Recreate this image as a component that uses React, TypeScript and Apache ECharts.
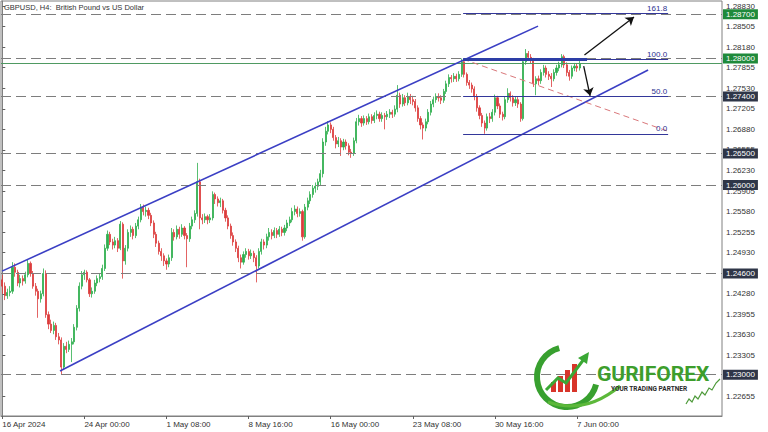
import React, { useEffect, useRef } from 'react';
import * as echarts from 'echarts';

const FONT = "'Liberation Sans', Arial, sans-serif";

// ---- axis data ----
const slotCount = 281;
const xTickIndex = [0, 32, 64, 96, 128, 160, 192, 224];
const xTickLabels = ['16 Apr 2024', '24 Apr 00:00', '1 May 08:00', '8 May 16:00', '16 May 00:00', '23 May 08:00', '30 May 16:00', '7 Jun 00:00'];
const yTickValues = [1.2883, 1.28505, 1.2818, 1.27855, 1.2753, 1.27205, 1.2688, 1.26555, 1.2623, 1.25905, 1.2558, 1.25255, 1.2493, 1.2428, 1.23955, 1.2363, 1.23305, 1.22655];
const yMin = 1.22347;
const yMax = 1.2891;

// ---- H4 candles (16 Apr 16:00 -> 7 Jun 04:00) ----
const opens = [
  1.2450, 1.2440, 1.2425, 1.2430, 1.2432, 1.2470, 1.2462, 1.2445, 1.2452, 1.2448,
  1.2458, 1.2476, 1.2460, 1.2440, 1.2432, 1.2420, 1.2428, 1.2460, 1.2395, 1.2380,
  1.2370, 1.2378, 1.2360, 1.2355, 1.2312, 1.2345, 1.2340, 1.2348, 1.2352, 1.2375,
  1.2405, 1.2440, 1.2458, 1.2462, 1.2450, 1.2428, 1.2432, 1.2445, 1.2452, 1.2455,
  1.2468, 1.2500, 1.2522, 1.2510, 1.2505, 1.2512, 1.2500, 1.2538, 1.2480, 1.2500,
  1.2525, 1.2530, 1.2520, 1.2535, 1.2545, 1.2565, 1.2558, 1.2560, 1.2552, 1.2540,
  1.2522, 1.2508, 1.2495, 1.2488, 1.2480, 1.2475, 1.2485, 1.2525, 1.2518, 1.2530,
  1.2522, 1.2532, 1.2520, 1.2515, 1.2535, 1.2545, 1.2555, 1.2605, 1.2548, 1.2545,
  1.2550, 1.2545, 1.2548, 1.2585, 1.2578, 1.2572, 1.2575, 1.2560, 1.2548, 1.2535,
  1.2520, 1.2510, 1.2500, 1.2485, 1.2478, 1.2490, 1.2495, 1.2488, 1.2492, 1.2485,
  1.2472, 1.2495, 1.2510, 1.2505, 1.2518, 1.2525, 1.2520, 1.2528, 1.2522, 1.2530,
  1.2525, 1.2532, 1.2540, 1.2545, 1.2558, 1.2562, 1.2555, 1.2558, 1.2518, 1.2565,
  1.2575, 1.2585, 1.2595, 1.2598, 1.2605, 1.2618, 1.2668, 1.2685, 1.2695, 1.2688,
  1.2675, 1.2665, 1.2670, 1.2660, 1.2668, 1.2662, 1.2652, 1.2650, 1.2670, 1.2700,
  1.2705, 1.2698, 1.2705, 1.2700, 1.2708, 1.2702, 1.2710, 1.2712, 1.2705, 1.2710,
  1.2708, 1.2712, 1.2715, 1.2712, 1.2720, 1.2742, 1.2728, 1.2738, 1.2730, 1.2740,
  1.2735, 1.2732, 1.2722, 1.2705, 1.2695, 1.2690, 1.2700, 1.2715, 1.2728, 1.2735,
  1.2740, 1.2738, 1.2734, 1.2748, 1.2760, 1.2770, 1.2768, 1.2772, 1.2768, 1.2775,
  1.2795, 1.2775, 1.2762, 1.2758, 1.2752, 1.2740, 1.2722, 1.2710, 1.2698, 1.2690,
  1.2708, 1.2705, 1.2715, 1.2738, 1.2725, 1.2712, 1.2708, 1.2735, 1.2745, 1.2738,
  1.2730, 1.2735, 1.2728, 1.2705, 1.2795, 1.2808, 1.2802, 1.2798, 1.2760, 1.2768,
  1.2765, 1.2778, 1.2785, 1.2775, 1.2772, 1.2768, 1.2778, 1.2785, 1.2790, 1.2803,
  1.2790, 1.2778, 1.2772, 1.2785, 1.2788, 1.2785,
];
const closes = [
  1.2440, 1.2425, 1.2430, 1.2432, 1.2470, 1.2462, 1.2445, 1.2452, 1.2448, 1.2458,
  1.2476, 1.2460, 1.2440, 1.2432, 1.2420, 1.2428, 1.2460, 1.2395, 1.2380, 1.2370,
  1.2378, 1.2360, 1.2355, 1.2312, 1.2345, 1.2340, 1.2348, 1.2352, 1.2375, 1.2405,
  1.2440, 1.2458, 1.2462, 1.2450, 1.2428, 1.2432, 1.2445, 1.2452, 1.2455, 1.2468,
  1.2500, 1.2522, 1.2510, 1.2505, 1.2512, 1.2500, 1.2538, 1.2480, 1.2500, 1.2525,
  1.2530, 1.2520, 1.2535, 1.2545, 1.2565, 1.2558, 1.2560, 1.2552, 1.2540, 1.2522,
  1.2508, 1.2495, 1.2488, 1.2480, 1.2475, 1.2485, 1.2525, 1.2518, 1.2530, 1.2522,
  1.2532, 1.2520, 1.2515, 1.2535, 1.2545, 1.2555, 1.2605, 1.2548, 1.2545, 1.2550,
  1.2545, 1.2548, 1.2585, 1.2578, 1.2572, 1.2575, 1.2560, 1.2548, 1.2535, 1.2520,
  1.2510, 1.2500, 1.2485, 1.2478, 1.2490, 1.2495, 1.2488, 1.2492, 1.2485, 1.2472,
  1.2495, 1.2510, 1.2505, 1.2518, 1.2525, 1.2520, 1.2528, 1.2522, 1.2530, 1.2525,
  1.2532, 1.2540, 1.2545, 1.2558, 1.2562, 1.2555, 1.2558, 1.2518, 1.2565, 1.2575,
  1.2585, 1.2595, 1.2598, 1.2605, 1.2618, 1.2668, 1.2685, 1.2695, 1.2688, 1.2675,
  1.2665, 1.2670, 1.2660, 1.2668, 1.2662, 1.2652, 1.2650, 1.2670, 1.2700, 1.2705,
  1.2698, 1.2705, 1.2700, 1.2708, 1.2702, 1.2710, 1.2712, 1.2705, 1.2710, 1.2708,
  1.2712, 1.2715, 1.2712, 1.2720, 1.2742, 1.2728, 1.2738, 1.2730, 1.2740, 1.2735,
  1.2732, 1.2722, 1.2705, 1.2695, 1.2690, 1.2700, 1.2715, 1.2728, 1.2735, 1.2740,
  1.2738, 1.2734, 1.2748, 1.2760, 1.2770, 1.2768, 1.2772, 1.2768, 1.2775, 1.2795,
  1.2775, 1.2762, 1.2758, 1.2752, 1.2740, 1.2722, 1.2710, 1.2698, 1.2690, 1.2708,
  1.2705, 1.2715, 1.2738, 1.2725, 1.2712, 1.2708, 1.2735, 1.2745, 1.2738, 1.2730,
  1.2735, 1.2728, 1.2705, 1.2795, 1.2808, 1.2802, 1.2798, 1.2760, 1.2768, 1.2765,
  1.2778, 1.2785, 1.2775, 1.2772, 1.2768, 1.2778, 1.2785, 1.2790, 1.2803, 1.2790,
  1.2778, 1.2772, 1.2785, 1.2788, 1.2785, 1.2792,
];
const lows = [
  1.2428, 1.2418, 1.2420, 1.2424, 1.2428, 1.2455, 1.2440, 1.2438, 1.2441, 1.2444,
  1.2454, 1.2455, 1.2436, 1.2425, 1.2390, 1.2414, 1.2424, 1.2390, 1.2372, 1.2366,
  1.2364, 1.2355, 1.2348, 1.2300, 1.2308, 1.2334, 1.2336, 1.2320, 1.2348, 1.2370,
  1.2400, 1.2435, 1.2450, 1.2446, 1.2423, 1.2422, 1.2428, 1.2440, 1.2446, 1.2450,
  1.2464, 1.2496, 1.2505, 1.2498, 1.2500, 1.2494, 1.2497, 1.2452, 1.2474, 1.2495,
  1.2518, 1.2514, 1.2516, 1.2530, 1.2541, 1.2552, 1.2550, 1.2546, 1.2535, 1.2516,
  1.2502, 1.2490, 1.2480, 1.2472, 1.2466, 1.2470, 1.2480, 1.2512, 1.2514, 1.2515,
  1.2518, 1.2514, 1.2470, 1.2510, 1.2530, 1.2540, 1.2550, 1.2530, 1.2538, 1.2540,
  1.2538, 1.2540, 1.2544, 1.2570, 1.2566, 1.2565, 1.2555, 1.2542, 1.2530, 1.2515,
  1.2504, 1.2494, 1.2478, 1.2468, 1.2474, 1.2485, 1.2482, 1.2483, 1.2478, 1.2446,
  1.2468, 1.2490, 1.2498, 1.2500, 1.2512, 1.2514, 1.2516, 1.2516, 1.2518, 1.2519,
  1.2520, 1.2527, 1.2535, 1.2541, 1.2552, 1.2549, 1.2550, 1.2512, 1.2515, 1.2560,
  1.2570, 1.2580, 1.2588, 1.2592, 1.2600, 1.2612, 1.2662, 1.2680, 1.2682, 1.2670,
  1.2658, 1.2660, 1.2646, 1.2655, 1.2656, 1.2647, 1.2643, 1.2646, 1.2666, 1.2694,
  1.2692, 1.2694, 1.2695, 1.2696, 1.2697, 1.2698, 1.2704, 1.2700, 1.2700, 1.2688,
  1.2703, 1.2706, 1.2706, 1.2708, 1.2715, 1.2722, 1.2724, 1.2725, 1.2726, 1.2728,
  1.2726, 1.2716, 1.2700, 1.2688, 1.2672, 1.2685, 1.2696, 1.2710, 1.2723, 1.2730,
  1.2732, 1.2728, 1.2730, 1.2744, 1.2755, 1.2762, 1.2763, 1.2763, 1.2764, 1.2771,
  1.2770, 1.2757, 1.2752, 1.2746, 1.2734, 1.2716, 1.2704, 1.2692, 1.2681, 1.2686,
  1.2698, 1.2700, 1.2710, 1.2720, 1.2706, 1.2702, 1.2704, 1.2730, 1.2732, 1.2724,
  1.2725, 1.2722, 1.2700, 1.2702, 1.2790, 1.2796, 1.2792, 1.2755, 1.2742, 1.2758,
  1.2760, 1.2773, 1.2770, 1.2766, 1.2755, 1.2764, 1.2773, 1.2780, 1.2786, 1.2785,
  1.2772, 1.2765, 1.2768, 1.2780, 1.2779, 1.2781,
];
const highs = [
  1.2458, 1.2446, 1.2436, 1.2440, 1.2478, 1.2476, 1.2466, 1.2458, 1.2457, 1.2463,
  1.2482, 1.2479, 1.2464, 1.2445, 1.2436, 1.2433, 1.2468, 1.2465, 1.2400, 1.2387,
  1.2384, 1.2382, 1.2366, 1.2359, 1.2350, 1.2352, 1.2354, 1.2358, 1.2380, 1.2410,
  1.2446, 1.2464, 1.2466, 1.2465, 1.2453, 1.2438, 1.2450, 1.2457, 1.2460, 1.2474,
  1.2506, 1.2528, 1.2526, 1.2515, 1.2518, 1.2516, 1.2543, 1.2541, 1.2505, 1.2530,
  1.2536, 1.2534, 1.2540, 1.2550, 1.2570, 1.2569, 1.2566, 1.2564, 1.2556, 1.2544,
  1.2526, 1.2512, 1.2500, 1.2492, 1.2484, 1.2490, 1.2532, 1.2530, 1.2536, 1.2534,
  1.2538, 1.2535, 1.2524, 1.2540, 1.2550, 1.2560, 1.2635, 1.2610, 1.2554, 1.2555,
  1.2553, 1.2554, 1.2590, 1.2588, 1.2582, 1.2580, 1.2578, 1.2564, 1.2552, 1.2539,
  1.2525, 1.2514, 1.2504, 1.2490, 1.2495, 1.2500, 1.2499, 1.2498, 1.2496, 1.2489,
  1.2500, 1.2515, 1.2514, 1.2523, 1.2532, 1.2530, 1.2533, 1.2532, 1.2535, 1.2534,
  1.2537, 1.2545, 1.2550, 1.2564, 1.2568, 1.2566, 1.2563, 1.2561, 1.2570, 1.2580,
  1.2590, 1.2600, 1.2604, 1.2610, 1.2624, 1.2674, 1.2692, 1.2701, 1.2699, 1.2692,
  1.2679, 1.2676, 1.2674, 1.2673, 1.2672, 1.2666, 1.2657, 1.2675, 1.2706, 1.2711,
  1.2709, 1.2710, 1.2709, 1.2713, 1.2712, 1.2715, 1.2718, 1.2716, 1.2715, 1.2714,
  1.2717, 1.2720, 1.2719, 1.2726, 1.2758, 1.2746, 1.2744, 1.2742, 1.2746, 1.2744,
  1.2741, 1.2736, 1.2726, 1.2709, 1.2699, 1.2705, 1.2720, 1.2733, 1.2740, 1.2745,
  1.2745, 1.2742, 1.2752, 1.2765, 1.2775, 1.2774, 1.2777, 1.2776, 1.2780, 1.2800,
  1.2798, 1.2778, 1.2766, 1.2762, 1.2756, 1.2744, 1.2726, 1.2714, 1.2702, 1.2713,
  1.2714, 1.2720, 1.2743, 1.2741, 1.2729, 1.2716, 1.2740, 1.2753, 1.2748, 1.2742,
  1.2740, 1.2739, 1.2731, 1.2800, 1.2815, 1.2812, 1.2807, 1.2801, 1.2772, 1.2773,
  1.2783, 1.2790, 1.2789, 1.2780, 1.2777, 1.2783, 1.2790, 1.2795, 1.2807, 1.2806,
  1.2794, 1.2782, 1.2789, 1.2793, 1.2792, 1.2796,
];

// ---- horizontal levels ----
const levelPrices = [1.287, 1.28, 1.274, 1.265, 1.26, 1.246, 1.23];
const levelIsGreen = [true, true, false, false, false, false, false];
const bidPrice = 1.2793;

// ---- drawn objects (bar index, price) ----
const upperChannel = [[-0.1, 1.24638], [208.8, 1.28513]];
const lowerChannel = [[22.5, 1.23058], [251.7, 1.27819]];
const fibStart = 179.6;
const fibEnd = 259.5;
const fibLow = 1.2681;
const fibHigh = 1.2799;
const fibRatios = [0, 50, 100, 161.8];
const fibLabels = ['0.0', '50.0', '100.0', '161.8'];
const fibDiagonal = [[179.6, 1.2799], [259.5, 1.2685]];
const targetBox = [[179.6, 1.27985], [227.9, 1.27985]];
const upArrow = [[226.9, 1.28056], [246.2, 1.28657]];
const downArrow = [[226.6, 1.2788], [229.1, 1.2741]];

const BULL = '#2fae4e';
const BEAR = '#dc3c3c';

function buildOption() {
  const categories = Array.from({ length: slotCount }, (_, i) => String(i));
  const labelMap: Record<number, string> = {};
  xTickIndex.forEach((idx, k) => { labelMap[idx] = xTickLabels[k]; });
  const showTick = (i: number) => labelMap[i] !== undefined;

  const candles = closes.map((c, i) => [opens[i], c, lows[i], highs[i]]);

  const levelLabel = (p: number, bg: string) => ({
    show: true,
    position: 'end',
    distance: 1,
    formatter: p.toFixed(5),
    backgroundColor: bg,
    color: '#ffffff',
    padding: [1, 3, 0, 3],
    fontSize: 8,
    lineHeight: 9,
    fontFamily: FONT,
  });

  const levelData: any[] = [
    {
      yAxis: bidPrice,
      lineStyle: { color: '#4f9a62', type: 'solid', width: 1 },
      label: { show: false },
    },
    ...levelPrices.map((p, k) => ({
      yAxis: p,
      lineStyle: { color: '#7d7d7d', type: [10, 5], width: 1 },
      label: levelLabel(p, levelIsGreen[k] ? '#1f8a3b' : '#2f3648'),
    })),
  ];

  const channelStyle = { color: '#3b3fc4', width: 1.6, type: 'solid' };
  const fibStyle = { color: '#33379a', width: 1.2, type: 'solid' };

  const annotData: any[] = [
    [{ coord: upperChannel[0], lineStyle: channelStyle }, { coord: upperChannel[1] }],
    [{ coord: lowerChannel[0], lineStyle: channelStyle }, { coord: lowerChannel[1] }],
    [{ coord: fibDiagonal[0], lineStyle: { color: '#d9777a', width: 1, type: [6, 4] } }, { coord: fibDiagonal[1] }],
    ...fibRatios.map((r, k) => {
      const p = fibLow + (r / 100) * (fibHigh - fibLow);
      return [
        {
          coord: [fibStart, p],
          lineStyle: fibStyle,
          label: {
            show: true,
            position: 'insideEndTop',
            distance: 1,
            formatter: fibLabels[k],
            color: '#2b2f8f',
            fontSize: 8,
            fontFamily: FONT,
          },
        },
        { coord: [fibEnd, p] },
      ];
    }),
    [{ coord: targetBox[0], lineStyle: { color: '#2d3ea6', width: 3, type: 'solid' } }, { coord: targetBox[1] }],
  ];

  const arrowStyle = { color: '#111111', width: 1.3, type: 'solid' };
  const arrowData: any[] = [
    [{ coord: upArrow[0], lineStyle: arrowStyle }, { coord: upArrow[1] }],
    [{ coord: downArrow[0], lineStyle: arrowStyle }, { coord: downArrow[1] }],
  ];

  const logo: any[] = [
    {
      type: 'arc',
      z: 20,
      shape: { cx: 567, cy: 377, r: 30, startAngle: 0.25, endAngle: 4.45, clockwise: true },
      style: { stroke: '#38a02f', lineWidth: 6, fill: 'none' },
    },
    {
      type: 'bezierCurve',
      z: 20,
      shape: { x1: 548, y1: 402, cpx1: 585, cpy1: 415, x2: 620, y2: 386 },
      style: { stroke: '#5cb83a', lineWidth: 3, fill: 'none' },
    },
    { type: 'rect', z: 21, shape: { x: 551, y: 382, width: 5, height: 10 }, style: { fill: '#d8352a' } },
    { type: 'rect', z: 21, shape: { x: 558, y: 376, width: 5, height: 16 }, style: { fill: '#d8352a' } },
    { type: 'rect', z: 21, shape: { x: 565, y: 370, width: 5, height: 22 }, style: { fill: '#d8352a' } },
    { type: 'rect', z: 21, shape: { x: 572, y: 364, width: 5, height: 28 }, style: { fill: '#d8352a' } },
    {
      type: 'polyline',
      z: 22,
      shape: { points: [[546, 390], [558, 378], [566, 383], [584, 359]] },
      style: { stroke: '#3aa835', lineWidth: 3, fill: 'none' },
    },
    {
      type: 'polygon',
      z: 22,
      shape: { points: [[589, 352], [578, 358], [587, 364]] },
      style: { fill: '#3aa835' },
    },
    {
      type: 'text',
      z: 22,
      x: 597,
      y: 374,
      style: {
        text: 'GURIFOREX',
        fill: '#3d9e2c',
        fontSize: 21,
        fontWeight: 'bold',
        fontFamily: 'Roboto, sans-serif',
        verticalAlign: 'middle',
      },
    },
    {
      type: 'text',
      z: 22,
      x: 611,
      y: 389,
      style: {
        text: 'YOUR TRADING PARTNER',
        fill: '#2a2a2a',
        fontSize: 6.5,
        fontWeight: 'bold',
        fontFamily: 'Roboto, sans-serif',
        verticalAlign: 'middle',
      },
    },
    {
      type: 'polyline',
      z: 22,
      shape: { points: [[686, 404], [689, 399], [692, 402], [695, 396], [698, 399], [702, 392], [705, 395], [709, 388], [712, 390], [716, 383], [720, 379]] },
      style: { stroke: '#4e9a3a', lineWidth: 1.2, fill: 'none' },
    },
  ];

  return {
    animation: false,
    backgroundColor: '#ffffff',
    title: {
      text: 'GBPUSD, H4:  British Pound vs US Dollar',
      left: 4,
      top: 3,
      padding: 0,
      textStyle: { fontSize: 7.5, fontWeight: 'normal', color: '#333333', fontFamily: FONT },
    },
    grid: {
      left: 1,
      top: 1,
      width: 721,
      height: 415,
      show: true,
      borderColor: '#808080',
      borderWidth: 1,
      backgroundColor: '#ffffff',
      containLabel: false,
      outerBoundsMode: 'none',
    },
    xAxis: [
      {
        type: 'category',
        data: categories,
        boundaryGap: true,
        axisLine: { show: true, lineStyle: { color: '#808080' } },
        axisTick: { show: true, alignWithLabel: true, interval: showTick, length: 3, lineStyle: { color: '#606060' } },
        axisLabel: {
          interval: showTick,
          formatter: (v: string) => labelMap[Number(v)] || '',
          align: 'left',
          fontSize: 8,
          color: '#333333',
          margin: 4,
          fontFamily: FONT,
        },
        splitLine: { show: false },
      },
      {
        type: 'value',
        min: -0.5,
        max: slotCount - 0.5,
        show: false,
        splitLine: { show: false },
      },
    ],
    yAxis: {
      type: 'value',
      position: 'right',
      min: yMin,
      max: yMax,
      axisLine: { show: true, lineStyle: { color: '#808080' } },
      axisTick: { show: true, length: 3, customValues: yTickValues, lineStyle: { color: '#606060' } },
      axisLabel: {
        customValues: yTickValues,
        formatter: (v: number) => v.toFixed(5),
        fontSize: 8,
        color: '#333333',
        margin: 4,
        fontFamily: FONT,
      },
      splitLine: { show: false },
    },
    graphic: logo,
    series: [
      {
        type: 'candlestick',
        xAxisIndex: 0,
        yAxisIndex: 0,
        data: candles,
        barWidth: 1.6,
        itemStyle: { color: BULL, color0: BEAR, borderColor: BULL, borderColor0: BEAR, borderWidth: 0.8 },
        markLine: {
          silent: true,
          precision: 5,
          symbol: ['none', 'none'],
          animation: false,
          data: levelData,
        },
      },
      {
        type: 'line',
        xAxisIndex: 1,
        yAxisIndex: 0,
        data: [],
        silent: true,
        markLine: {
          silent: true,
          precision: 5,
          symbol: ['none', 'none'],
          animation: false,
          label: { show: false },
          data: annotData,
        },
      },
      {
        type: 'line',
        xAxisIndex: 1,
        yAxisIndex: 0,
        data: [],
        silent: true,
        markLine: {
          silent: true,
          precision: 5,
          symbol: ['none', 'arrow'],
          symbolSize: 8,
          animation: false,
          label: { show: false },
          data: arrowData,
        },
      },
    ],
  };
}

export default function App() {
  const ref = useRef<HTMLDivElement>(null);
  useEffect(() => {
    if (!ref.current) return;
    const chart = echarts.init(ref.current, null, { renderer: 'svg' });
    chart.setOption(buildOption() as any);
    return () => chart.dispose();
  }, []);
  return (
    <div
      ref={ref}
      style={{ position: 'fixed', left: 0, top: 0, width: 768, height: 432, background: '#ffffff' }}
    />
  );
}
